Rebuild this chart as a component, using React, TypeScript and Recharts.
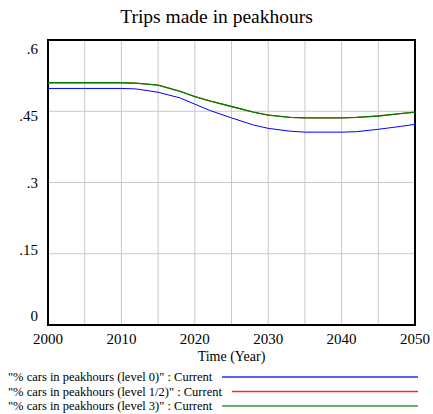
import React from "react";
import {
  LineChart,
  Line,
  XAxis,
  YAxis,
  CartesianGrid,
  ReferenceArea,
  Legend,
} from "recharts";

const years = [2000, 2005, 2010, 2012, 2015, 2018, 2020, 2022, 2025, 2028, 2030, 2033, 2035, 2040, 2042, 2045, 2048, 2050];
const level0 = [0.498, 0.498, 0.498, 0.497, 0.49, 0.478, 0.465, 0.452, 0.436, 0.421, 0.414, 0.408, 0.406, 0.406, 0.407, 0.412, 0.418, 0.4225];
const levelHalf = [0.51, 0.51, 0.51, 0.509, 0.505, 0.492, 0.481, 0.472, 0.46, 0.448, 0.442, 0.437, 0.436, 0.436, 0.437, 0.44, 0.445, 0.448];
const level3 = [0.51, 0.51, 0.51, 0.509, 0.505, 0.492, 0.481, 0.472, 0.46, 0.448, 0.442, 0.437, 0.436, 0.436, 0.437, 0.44, 0.445, 0.448];

const xTicks = [2000, 2005, 2010, 2015, 2020, 2025, 2030, 2035, 2040, 2045, 2050];
const yTicks = [0, 0.15, 0.3, 0.45, 0.6];
const yTickLabels = ["0", ".15", ".3", ".45", ".6"];

const title = "Trips made in peakhours";
const xLabel = "Time (Year)";

const series = [
  { key: "l0", name: "\"% cars in peakhours (level 0)\" : Current", color: "#0000FF", legendX: 222, width: 1 },
  { key: "lh", name: "\"% cars in peakhours (level 1/2)\" : Current", color: "#FF0000", legendX: 232, width: 1 },
  { key: "l3", name: "\"% cars in peakhours (level 3)\" : Current", color: "#008000", legendX: 222, width: 1.3 },
];

const data = years.map((y, i) => ({ year: y, l0: level0[i], lh: levelHalf[i], l3: level3[i] }));

const FONT = "Liberation Serif";

const YTick = (props: any) => {
  const { x, y, payload } = props;
  const idx = yTicks.indexOf(payload.value);
  const shift = (payload.value - 0.3) * 30;
  return (
    <text x={x} y={y + shift} dy="0.35em" textAnchor="end" fontFamily={FONT} fontSize={15} fill="#000">
      {yTickLabels[idx]}
    </text>
  );
};

const XTick = (props: any) => {
  const { x, y, payload } = props;
  if (payload.value % 10 !== 0) return null;
  return (
    <text x={x} y={y} dy="0.71em" textAnchor="middle" fontFamily={FONT} fontSize={15} fill="#000">
      {String(payload.value)}
    </text>
  );
};

const LegendContent = () => (
  <svg width={433} height={48}>
    {series.map((s, i) => (
      <g key={s.key}>
        <text x={8} y={i * 14.5 + 8} dy="0.35em" fontFamily={FONT} fontSize={12.5} fill="#000">
          {s.name}
        </text>
        <line x1={s.legendX} x2={418} y1={i * 14.5 + 8} y2={i * 14.5 + 8} stroke={s.color} strokeWidth={s.key === "l3" ? 2 : 1.3} opacity={s.key === "l3" ? 0.6 : 0.85} />
      </g>
    ))}
  </svg>
);

const XLabel = (props: any) => {
  const { viewBox } = props;
  const cx = viewBox.x + viewBox.width / 2;
  return (
    <text x={cx} y={356} dy="0.35em" textAnchor="middle" fontFamily={FONT} fontSize={14} fill="#000">
      {xLabel}
    </text>
  );
};

export default function App() {
  return (
    <div style={{ position: "absolute", left: 0, top: 0, width: 433, height: 414, background: "#fff" }}>
      <div
        style={{
          position: "absolute",
          left: 0,
          width: 433,
          top: 6,
          textAlign: "center",
          fontFamily: "\"Liberation Serif\"",
          fontSize: 19.5,
          color: "#000",
          lineHeight: "22px",
        }}
      >
        {title}
      </div>
      <LineChart width={433} height={414} data={data} margin={{ top: 40, right: 18, left: 0, bottom: 49 }}>
        <CartesianGrid stroke="#c8c8c8" strokeWidth={1} />
        <XAxis
          dataKey="year"
          type="number"
          domain={[2000, 2050]}
          ticks={xTicks}
          interval={0}
          axisLine={false}
          tickLine={false}
          tickSize={0}
          tickMargin={8}
          height={40}
          tick={<XTick />}
          label={<XLabel />}
        />
        <YAxis
          type="number"
          domain={[0, 0.6]}
          ticks={yTicks}
          interval={0}
          width={48}
          axisLine={false}
          tickLine={false}
          tickSize={0}
          tickMargin={10}
          tick={<YTick />}
        />
        <ReferenceArea x1={2000} x2={2050} y1={0} y2={0.6} fill="none" stroke="#000" strokeWidth={2} ifOverflow="visible" />
        {series.map((s) => (
          <Line
            key={s.key}
            dataKey={s.key}
            name={s.name}
            type="linear"
            stroke={s.color}
            strokeWidth={s.width}
            dot={false}
            isAnimationActive={false}
          />
        ))}
        <Legend
          layout="vertical"
          align="center"
          verticalAlign="middle"
          content={<LegendContent />}
          wrapperStyle={{ position: "absolute", top: 369, left: 0, width: 433, height: 48 }}
        />
      </LineChart>
    </div>
  );
}
